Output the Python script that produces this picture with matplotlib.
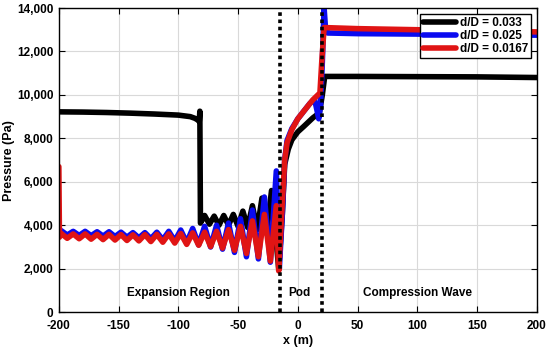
import matplotlib
matplotlib.use("Agg")
import matplotlib.pyplot as plt
from matplotlib.ticker import FuncFormatter

plt.rcParams['font.family'] = ['Liberation Sans', 'DejaVu Sans']
plt.rcParams['font.weight'] = 'bold'
plt.rcParams['axes.unicode_minus'] = False

labels = ["d/D = 0.033", "d/D = 0.025", "d/D = 0.0167"]
colors = ["#000000", "#0a0af0", "#e01414"]

# d/D = 0.033 (black)
x_black = [-200, -180, -160, -140, -120, -100, -90, -86, -83, -82.5, -82, -81.5,
           -78, -74, -70, -66, -62, -58, -54, -50, -46, -42, -38, -34, -30, -26, -22,
           -16, -13, -11, -8, -5, 0, 5, 12.5, 18, 20.5, 22.5, 50, 100, 150, 200]
p_black = [9220, 9210, 9190, 9160, 9120, 9070, 9000, 8920, 8820, 8770, 9250, 4100,
           4450, 4050, 4420, 4000, 4450, 4000, 4500, 3950, 4650, 3900, 4900, 3800, 5250, 3700, 5600,
           2000, 4500, 6800, 7500, 7930, 8300, 8550, 8940, 9170, 10000, 10850, 10850, 10840, 10830, 10800]

# d/D = 0.025 (blue)
x_blue = [-200, -198, -193, -188, -183, -178, -173, -168, -163, -158, -153, -148, -143,
          -138, -133, -128, -123, -118, -113, -108, -103, -98, -93, -88, -83, -78, -73,
          -68, -63, -58, -53, -48, -43, -38, -33, -28, -23, -18,
          -15.5, -13, -11, -9, -5, 0, 5, 10, 14, 16, 17.5, 19, 20.5, 22, 23, 25, 50, 100, 150, 200]
p_blue = [3650, 3750, 3550, 3720, 3530, 3720, 3520, 3700, 3500, 3700, 3480, 3680, 3450,
          3660, 3420, 3660, 3380, 3680, 3330, 3720, 3280, 3780, 3200, 3850, 3100, 3950, 3000,
          4000, 2900, 4100, 2750, 4300, 2550, 4700, 2450, 5300, 2300, 6500,
          2000, 4500, 7000, 7900, 8450, 8900, 9250, 9600, 9800, 9300, 8900, 9500, 11500, 14000, 13200, 12850, 12820, 12800, 12780, 12750]

# d/D = 0.0167 (red)
x_red = [-200, -199.5, -198, -193, -188, -183, -178, -173, -168, -163, -158, -153, -148, -143,
         -138, -133, -128, -123, -118, -113, -108, -103, -98, -93, -88, -83, -78, -73,
         -68, -63, -58, -53, -48, -43, -38, -33, -28, -23, -18,
         -16, -13.5, -11, -9, -5, 0, 5, 12.5, 18.5, 20, 22, 50, 100, 150, 200]
p_red = [6700, 3450, 3620, 3400, 3600, 3380, 3600, 3360, 3580, 3340, 3580, 3320, 3570, 3300,
         3560, 3280, 3570, 3250, 3580, 3220, 3600, 3180, 3620, 3120, 3650, 3080, 3680, 3020,
         3720, 2950, 3800, 2850, 3950, 2700, 4200, 2550, 4500, 2350, 4900,
         1900, 4500, 7000, 7800, 8400, 8900, 9250, 9770, 10090, 11500, 13100, 13050, 13000, 12950, 12900]

pod_edges = [-15, 20]
region_labels = ["Expansion Region", "Pod", "Compression Wave"]
region_x = [-100, 1, 100]
region_y = 900

fig = plt.figure(figsize=(5.5, 3.48), dpi=100)
ax = fig.add_axes([0.107, 0.103, 0.869, 0.874])

for xs, ys, c, lab in [(x_black, p_black, colors[0], labels[0]),
                       (x_blue, p_blue, colors[1], labels[1]),
                       (x_red, p_red, colors[2], labels[2])]:
    ax.plot(xs, ys, color=c, lw=4.0, label=lab, solid_joinstyle='round', solid_capstyle='round')

for xe in pod_edges:
    ax.plot([xe, xe], [0, 14000], color='black', lw=2.6, linestyle=(0, (1, 1)),
            dash_capstyle='butt', zorder=5)

for t, xv in zip(region_labels, region_x):
    ax.text(xv, region_y, t, ha='center', va='center', fontsize=8.5, fontweight='bold')

ax.set_xlim(-200, 200)
ax.set_ylim(0, 14000)
ax.set_xticks(range(-200, 201, 50))
ax.set_yticks(range(0, 14001, 2000))
ax.yaxis.set_major_formatter(FuncFormatter(lambda v, p: f"{int(v):,}"))
ax.grid(True, color='#d9d9d9', lw=0.8)
ax.set_axisbelow(True)
ax.tick_params(direction='in', top=True, right=True, length=4, width=0.8, labelsize=8.5)
ax.tick_params(axis='x', pad=6)
ax.tick_params(axis='y', pad=4)
for lbl in ax.get_xticklabels() + ax.get_yticklabels():
    lbl.set_fontweight('bold')
for s in ax.spines.values():
    s.set_linewidth(1.0)

ax.set_xlabel("x (m)", fontsize=9, fontweight='bold', labelpad=2)
ax.set_ylabel("Pressure (Pa)", fontsize=9, fontweight='bold')
ax.yaxis.set_label_coords(-0.092, 0.5)

leg = ax.legend(loc='upper right', fontsize=8.5, frameon=True, fancybox=False,
                edgecolor='black', framealpha=1, borderpad=0.25, labelspacing=0.1,
                handlelength=2.8, handletextpad=0.3, borderaxespad=0.5)
leg.get_frame().set_linewidth(1.0)
for t in leg.get_texts():
    t.set_fontweight('bold')

fig.savefig("out.png", dpi=100)
